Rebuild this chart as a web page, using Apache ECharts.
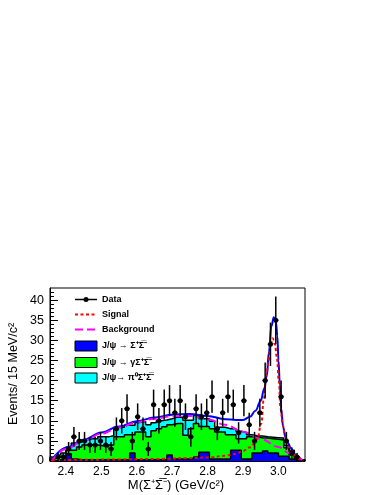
<!DOCTYPE html>
<html>
<head>
<meta charset="utf-8">
<script src="https://cdn.jsdelivr.net/npm/echarts@6/dist/echarts.min.js"></script>
<style>
  html, body { margin: 0; padding: 0; background: #fff; }
  #chart { width: 383px; height: 495px; }
</style>
</head>
<body>
<div id="chart"></div>
<script>
// binning: 48 bins of 15 MeV
var binLo = 2.355
var binW = 0.015
var nBins = 48

// data counts per bin
var dataCounts = [0, 1, 1, 3, 6, 5, 5, 4, 4, 5, 4, 3, 8, 10, 13, 5, 11, 8, 3, 14, 10, 14, 15, 12,
  15, 11, 6, 13, 11, 12, 16, 8, 12, 16, 14, 7, 15, 9, 5, 12, 20, 29, 35, 16, 5, 2, 1, 0]

// MC components (stacked: blue, green, cyan)
var sigmaBar = [0, 0.3, 0.3, 1.8, 0.5, 0.3, 0.3, 0.3, 0.3, 0.3, 0.3, 0.3, 0.3, 0.3, 0.3, 2.0, 0.3, 0.3, 0.3, 0.3, 0.3, 0.3, 1.5, 0.5,
  0.5, 0.5, 0.5, 1.0, 2.2, 2.2, 0.5, 0.5, 0.5, 0.5, 2.7, 2.7, 0.5, 0.5, 2.0, 2.0, 2.5, 2.0, 2.0, 1.2, 1.2, 0.5, 0.2, 0]
var gammaBar = [0.5, 0.7, 0.9, 0.9, 2.2, 3.2, 3.7, 3.7, 3.7, 3.5, 3.2, 3.7, 5.7, 5.7, 6.2, 4.5, 6.9, 6.9, 5.7, 7.2, 7.7, 8.2, 7.5, 8.8,
  8.8, 5.9, 7.5, 8.3, 6.4, 6.4, 7.5, 6.7, 6.7, 6.0, 3.8, 2.8, 5.0, 5.5, 4.0, 3.8, 3.2, 3.5, 3.4, 4.0, 2.1, 1.0, 0.6, 0.2]
var pi0Bar = [0.5, 0.5, 0.8, 0.8, 1.8, 1.2, 1.3, 1.5, 1.5, 2.2, 2.5, 2.3, 2.4, 2.4, 2.4, 2.4, 2.4, 2.6, 3.0, 2.0, 2.0, 1.7, 1.5, 1.6,
  1.6, 3.7, 2.1, 2.0, 1.9, 1.9, 1.9, 1.2, 1.2, 1.5, 1.5, 1.9, 1.5, 0.5, 0.3, 0.4, 0.3, 0.4, 0.4, 0.5, 0.6, 1.2, 0.2, 0.1]

// fit curves
var bkgMass = [2.36, 2.40, 2.45, 2.50, 2.55, 2.60, 2.65, 2.70, 2.75, 2.80, 2.85, 2.90, 2.95, 3.00, 3.03, 3.05, 3.07]
var bkgVal = [0, 3.0, 5.0, 6.8, 8.3, 9.6, 10.5, 11.1, 11.2, 10.4, 9.0, 7.3, 5.5, 3.5, 2.0, 1.0, 0]

var sigMass = [2.36, 2.45, 2.55, 2.65, 2.75, 2.80, 2.85, 2.88, 2.90, 2.92, 2.94, 2.952, 2.958, 2.966, 2.972, 2.978,
  2.984, 2.99, 2.996, 3.001, 3.006, 3.012, 3.018, 3.027, 3.04, 3.05, 3.06, 3.07]
var sigVal = [0.2, 0.3, 0.4, 0.5, 0.7, 0.9, 1.3, 1.8, 2.5, 3.4, 5.5, 9.4, 15, 21.5, 25, 29,
  30.5, 29, 25.5, 20, 13, 9, 6.5, 3.5, 1.9, 1.0, 0.4, 0]

var totMass = [2.36, 2.40, 2.45, 2.50, 2.55, 2.60, 2.65, 2.70, 2.75, 2.80, 2.85, 2.88, 2.90, 2.92, 2.935, 2.95, 2.96,
  2.967, 2.973, 2.98, 2.987, 2.993, 2.997, 3.0, 3.004, 3.008, 3.013, 3.02, 3.027, 3.035, 3.045, 3.055, 3.065]
var totVal = [0.2, 3.3, 5.3, 7.1, 8.6, 9.9, 10.8, 11.5, 11.7, 11.2, 10.4, 10.2, 10.2, 11.0, 12.5, 15, 18,
  21, 27, 33.5, 35.7, 34.5, 31, 25, 19, 13, 8.5, 5.8, 4.5, 3.2, 1.8, 0.8, 0.2]

// axis ticks
var xMajor = [2.4, 2.5, 2.6, 2.7, 2.8, 2.9, 3.0]
var xMinor = [2.36, 2.38, 2.42, 2.44, 2.46, 2.48, 2.52, 2.54, 2.56, 2.58, 2.62, 2.64, 2.66, 2.68,
  2.72, 2.74, 2.76, 2.78, 2.82, 2.84, 2.86, 2.88, 2.92, 2.94, 2.96, 2.98, 3.02, 3.04, 3.06]
var yMajor = [0, 5, 10, 15, 20, 25, 30, 35, 40]
var yMinor = [1, 2, 3, 4, 6, 7, 8, 9, 11, 12, 13, 14, 16, 17, 18, 19, 21, 22, 23, 24, 26, 27, 28, 29,
  31, 32, 33, 34, 36, 37, 38, 39, 41, 42]

var FONT = '"Liberation Sans", Arial, Helvetica, sans-serif'

// step outline of a cumulative histogram
function stepData(levels) {
  var out = [[binLo, 0]]
  for (var i = 0; i < nBins; i++) {
    out.push([binLo + i * binW, levels[i]])
  }
  out.push([binLo + nBins * binW, 0])
  return out
}

function pairs(xs, ys) {
  return xs.map(function(x, i) { return [x, ys[i]] })
}

var cumBlue = sigmaBar.slice()
var cumGreen = sigmaBar.map(function(v, i) { return v + gammaBar[i] })
var cumCyan = cumGreen.map(function(v, i) { return v + pi0Bar[i] })

var points = []
dataCounts.forEach(function(n, i) {
  if (n > 0) points.push([binLo + (i + 0.5) * binW, n])
})

function histSeries(name, levels, color) {
  return {
    name: name,
    type: 'line',
    step: 'end',
    symbol: 'none',
    xAxisIndex: 0,
    yAxisIndex: 0,
    data: stepData(levels),
    lineStyle: { color: '#000', width: 1.5 },
    areaStyle: { color: color, opacity: 1 },
    silent: true
  }
}

function curveSeries(name, xs, ys, color, width, type) {
  return {
    name: name,
    type: 'line',
    smooth: 0.4,
    smoothMonotone: 'x',
    symbol: 'none',
    data: pairs(xs, ys),
    lineStyle: { color: color, width: width, type: type },
    silent: true
  }
}

var legendItems = [
  { kind: 'data', y: 299.5, text: 'Data' },
  { kind: 'line', y: 314.5, text: 'Signal', color: '#ff0000', dash: [3, 2.5] },
  { kind: 'line', y: 329.5, text: 'Background', color: '#ff00ff', dash: [8, 4] },
  { kind: 'box', y: 346, text: 'J/\u03c8 \u2192 \u03a3\u207a\u03a3\u0305\u207b', color: '#0000ff' },
  { kind: 'box', y: 362.5, text: 'J/\u03c8 \u2192 \u03b3\u03a3\u207a\u03a3\u0305\u207b', color: '#00ff00' },
  { kind: 'box', y: 378, text: 'J/\u03c8\u2192 \u03c0\u2070\u03a3\u207a\u03a3\u0305\u207b', color: '#00ffff' }
]

var graphics = []
legendItems.forEach(function(it) {
  if (it.kind === 'data') {
    graphics.push({ type: 'line', shape: { x1: 75, y1: it.y, x2: 97, y2: it.y }, style: { stroke: '#000', lineWidth: 1.5 } })
    graphics.push({ type: 'circle', shape: { cx: 86, cy: it.y, r: 2.5 }, style: { fill: '#000' } })
  } else if (it.kind === 'line') {
    graphics.push({ type: 'line', shape: { x1: 75, y1: it.y, x2: 97, y2: it.y }, style: { stroke: it.color, lineWidth: 2, lineDash: it.dash } })
  } else {
    graphics.push({ type: 'rect', shape: { x: 75, y: it.y - 5, width: 22, height: 10 }, style: { fill: it.color, stroke: '#000', lineWidth: 1 } })
  }
  graphics.push({
    type: 'text', x: 102, y: it.y,
    style: { text: it.text, font: 'bold 9px ' + FONT, fill: '#000', verticalAlign: 'middle' }
  })
})

// axis titles
graphics.push({
  type: 'text', x: 13.5, y: 374, rotation: Math.PI / 2,
  style: { text: 'Events/ 15 MeV/c\u00b2', font: '12.5px ' + FONT, fill: '#000', align: 'center', verticalAlign: 'middle' }
})
graphics.push({
  type: 'text', x: 176, y: 485,
  style: { text: 'M(\u03a3\u207a\u03a3\u0305\u207b) (GeV/c\u00b2)', font: '13px ' + FONT, fill: '#000', align: 'center', verticalAlign: 'middle' }
})

var chart = echarts.init(document.getElementById('chart'), null, { renderer: 'canvas' })

chart.setOption({
  animation: false,
  backgroundColor: '#fff',
  grid: { left: 50, right: 78, top: 288, bottom: 34, show: true, borderColor: '#000', borderWidth: 1, backgroundColor: 'transparent' },
  xAxis: [
    {
      type: 'value', min: binLo, max: binLo + nBins * binW,
      axisLine: { show: true, onZero: false, lineStyle: { color: '#000', width: 1 } },
      axisTick: { show: true, inside: true, length: 8, customValues: xMajor, lineStyle: { color: '#000' } },
      axisLabel: { show: true, customValues: xMajor, fontSize: 12, fontFamily: FONT, color: '#000', margin: 5,
        formatter: function(v) { return v.toFixed(1) } },
      splitLine: { show: false }
    },
    {
      type: 'value', min: binLo, max: binLo + nBins * binW, position: 'bottom',
      axisLine: { show: false },
      axisTick: { show: true, inside: true, length: 4, customValues: xMinor, lineStyle: { color: '#000' } },
      axisLabel: { show: false },
      splitLine: { show: false }
    }
  ],
  yAxis: [
    {
      type: 'value', min: 0, max: 43,
      axisLine: { show: true, onZero: false, lineStyle: { color: '#000', width: 1 } },
      axisTick: { show: true, inside: true, length: 8, customValues: yMajor, lineStyle: { color: '#000' } },
      axisLabel: { show: true, customValues: yMajor, fontSize: 12.5, fontFamily: FONT, color: '#000', margin: 6 },
      splitLine: { show: false }
    },
    {
      type: 'value', min: 0, max: 43, position: 'left',
      axisLine: { show: false },
      axisTick: { show: true, inside: true, length: 4, customValues: yMinor, lineStyle: { color: '#000' } },
      axisLabel: { show: false },
      splitLine: { show: false }
    }
  ],
  series: [
    histSeries('pi0', cumCyan, '#00ffff'),
    histSeries('gamma', cumGreen, '#00ff00'),
    histSeries('sigma', cumBlue, '#0000ff'),
    curveSeries('Total', totMass, totVal, '#0000ff', 2, 'solid'),
    curveSeries('Background', bkgMass, bkgVal, '#ff00ff', 2, [8, 4]),
    curveSeries('Signal', sigMass, sigVal, '#ff0000', 2, [3, 2.5]),
    {
      name: 'Data',
      type: 'custom',
      data: points,
      z: 10,
      renderItem: function(params, api) {
        var x = api.value(0)
        var y = api.value(1)
        var e = Math.sqrt(y)
        var c = api.coord([x, y])
        var top = api.coord([x, y + e])
        var bot = api.coord([x, y - e])
        var hw = api.size([binW, 0])[0] / 2
        return {
          type: 'group',
          children: [
            { type: 'line', shape: { x1: c[0], y1: top[1], x2: c[0], y2: bot[1] }, style: { stroke: '#000', lineWidth: 1.5 } },
            { type: 'line', shape: { x1: c[0] - hw, y1: c[1], x2: c[0] + hw, y2: c[1] }, style: { stroke: '#000', lineWidth: 1.5 } },
            { type: 'circle', shape: { cx: c[0], cy: c[1], r: 2.5 }, style: { fill: '#000' } }
          ]
        }
      }
    }
  ],
  graphic: graphics
})
</script>
</body>
</html>
